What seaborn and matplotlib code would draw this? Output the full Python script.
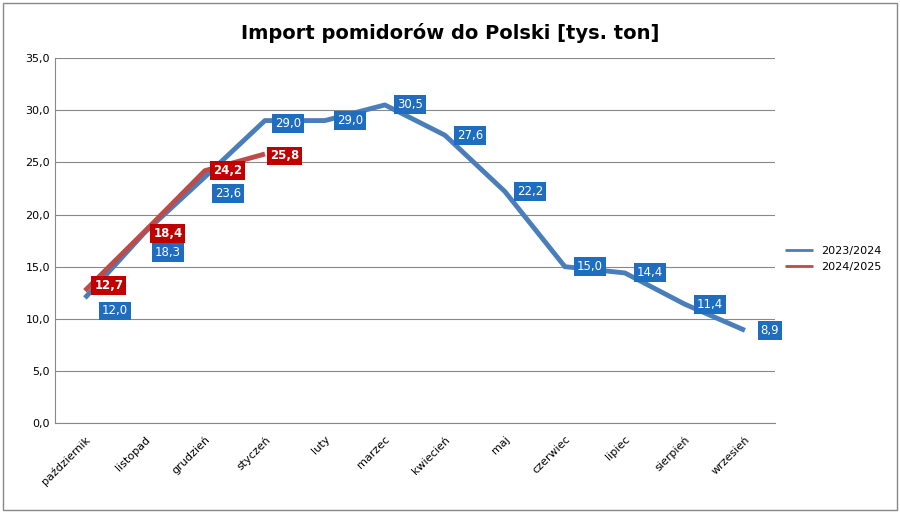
import matplotlib
matplotlib.use("Agg")
import matplotlib.pyplot as plt
import seaborn as sns
import pandas as pd

months = ["październik", "listopad", "grudzień", "styczeń", "luty", "marzec",
          "kwiecień", "maj", "czerwiec", "lipiec", "sierpień", "wrzesień"]
s2324 = [12.0, 18.3, 23.6, 29.0, 29.0, 30.5, 27.6, 22.2, 15.0, 14.4, 11.4, 8.9]
s2425 = [12.7, 18.4, 24.2, 25.8]

blue_line = "#4a7ebb"
red_line = "#be4b48"
blue_box = "#1f6dbf"
red_box = "#c00000"

df = pd.concat([
    pd.DataFrame({"x": range(len(s2324)), "v": s2324, "sezon": "2023/2024"}),
    pd.DataFrame({"x": range(len(s2425)), "v": s2425, "sezon": "2024/2025"}),
])

fig = plt.figure(figsize=(9, 5.13), dpi=100)
ax = fig.add_axes([0.061, 0.175, 0.8, 0.712])
sns.lineplot(data=df, x="x", y="v", hue="sezon", palette=[blue_line, red_line],
             linewidth=3.5, ax=ax, solid_capstyle="butt", solid_joinstyle="round")

ax.set_xlim(-0.5, 11.5)
ax.set_ylim(0, 35)
ax.set_yticks(range(0, 36, 5))
ax.set_yticklabels([f"{v:.1f}".replace(".", ",") for v in range(0, 36, 5)], fontsize=8)
ax.set_xticks(range(len(months)))
ax.set_xticklabels(months, rotation=45, ha="right", fontsize=8, rotation_mode="anchor")
ax.tick_params(axis="x", length=0, pad=8)
ax.tick_params(axis="y", length=0)
ax.grid(axis="y", color="#888888", linewidth=0.8)
ax.set_axisbelow(True)
for side in ["top", "right"]:
    ax.spines[side].set_visible(False)
for side in ["left", "bottom"]:
    ax.spines[side].set_color("#888888")
ax.set_xlabel("")
ax.set_ylabel("")

# label offsets in pixels (dx, dy)
blue_off = [(30, -13), (23, -20), (23, -17), (23, -3)] + [(25, 0)] * 8
red_off = [(24, 5), (23, -2), (23, 0), (20, -2)]


def lab(vals, offs, color):
    for i, (v, (dx, dy)) in enumerate(zip(vals, offs)):
        ax.annotate(f"{v:.1f}".replace(".", ","), (i, v), xytext=(dx, dy),
                    textcoords="offset pixels", ha="center", va="center",
                    color="white", fontsize=8.5, fontweight="bold" if color == red_box else "normal",
                    bbox=dict(boxstyle="square,pad=0.25", fc=color, ec="none"))


lab(s2324, blue_off, blue_box)
lab(s2425, red_off, red_box)

leg = ax.legend(loc="center left", bbox_to_anchor=(1.0, 0.45), frameon=False,
                fontsize=8, handlelength=2.5)
for h in leg.get_lines():
    h.set_linewidth(2)

fig.suptitle("Import pomidorów do Polski [tys. ton]", y=0.955, fontsize=14, fontweight="bold")
fig.patches.append(plt.Rectangle((0.003, 0.005), 0.994, 0.99, transform=fig.transFigure,
                                 fill=False, ec="#888888", lw=1))
fig.savefig("out.png", dpi=100)
